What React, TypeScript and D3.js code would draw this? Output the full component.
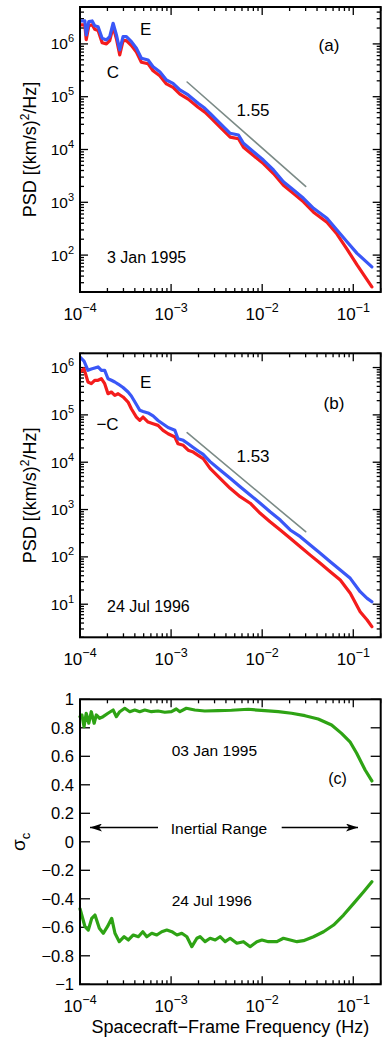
import React from 'react';
import * as d3 from 'd3';

// spectra: frequency (Hz), PSD ((km/s)^2/Hz)
const freqA = [1.0e-4, 1.13e-4, 1.17e-4, 1.25e-4, 1.36e-4, 1.45e-4, 1.58e-4, 1.75e-4, 1.95e-4, 2.12e-4,
  2.31e-4, 2.51e-4, 2.73e-4, 2.97e-4, 3.23e-4, 3.67e-4, 4.16e-4, 4.72e-4, 5.59e-4, 6.34e-4,
  7.51e-4, 8.88e-4, 1.05e-3, 1.25e-3, 1.54e-3, 1.98e-3, 2.35e-3, 2.68e-3, 3.45e-3, 4.45e-3,
  5.49e-3, 6.23e-3, 8.02e-3, 1.03e-2, 1.33e-2, 1.71e-2, 2.21e-2, 2.84e-2, 3.66e-2, 5.14e-2,
  6.62e-2, 8.53e-2, 0.110, 0.160];
const psdEA = [2.72e6, 2.72e6, 1.48e6, 2.64e6, 2.72e6, 2.21e6, 2.12e6, 1.28e6, 1.19e6, 1.37e6,
  2.46e6, 1.48e6, 7.7e5, 1.37e6, 1.37e6, 1.10e6, 8.26e5, 5.34e5, 4.95e5, 3.70e5,
  2.98e5, 2.07e5, 1.79e5, 1.34e5, 1.08e5, 7.5e4, 6.03e4, 4.85e4, 3.13e4, 2.03e4,
  1.88e4, 1.31e4, 9.08e3, 6.32e3, 4.09e3, 2.45e3, 1.71e3, 1.19e3, 769, 498,
  299, 179, 108, 60];
const psdCA = [2.3e6, 2.3e6, 1.2e6, 2.2e6, 2.3e6, 1.9e6, 1.8e6, 1.05e6, 1.0e6, 1.15e6,
  2.1e6, 1.25e6, 6.2e5, 1.15e6, 1.15e6, 9.3e5, 7.0e5, 4.5e5, 4.2e5, 3.1e5,
  2.5e5, 1.75e5, 1.5e5, 1.12e5, 9.0e4, 6.3e4, 5.1e4, 4.1e4, 2.65e4, 1.72e4,
  1.6e4, 1.1e4, 7.7e3, 5.4e3, 3.5e3, 2.1e3, 1.46e3, 1.02e3, 650, 420,
  250, 130, 65, 25];

const freqB = [1.0e-4, 1.107e-4, 1.224e-4, 1.331e-4, 1.451e-4, 1.578e-4, 1.715e-4, 1.867e-4, 2.03e-4, 2.21e-4,
  2.41e-4, 2.62e-4, 2.97e-4, 3.37e-4, 3.66e-4, 4.16e-4, 4.53e-4, 4.92e-4, 5.59e-4, 6.34e-4,
  7.19e-4, 8.16e-4, 9.27e-4, 1.10e-3, 1.19e-3, 1.36e-3, 1.54e-3, 1.75e-3, 1.98e-3, 2.25e-3,
  2.68e-3, 3.45e-3, 4.45e-3, 5.73e-3, 7.38e-3, 9.51e-3, 1.22e-2, 1.58e-2, 2.03e-2, 2.62e-2,
  3.37e-2, 4.34e-2, 5.59e-2, 7.20e-2, 9.27e-2, 0.119, 0.142, 0.160];
const psdEB = [1.67e6, 1.37e6, 8.75e5, 9.3e5, 9.8e5, 1.03e6, 8.75e5, 8.75e5, 5.81e5, 5.38e5,
  4.95e5, 4.49e5, 3.78e5, 3.04e5, 2.51e5, 1.66e5, 1.25e5, 1.18e5, 1.10e5, 9.5e4,
  7.6e4, 6.4e4, 5.4e4, 4.75e4, 3.14e4, 2.90e4, 2.46e4, 2.05e4, 1.73e4, 1.46e4,
  1.03e4, 6.84e3, 4.57e3, 3.04e3, 2.03e3, 1.36e3, 900, 601, 370, 267,
  178, 119, 79, 52.7, 35.2, 18.4, 13.3, 11.3];
const psdCB = [8.05e5, 9.46e5, 4.95e5, 4.56e5, 5.38e5, 5.38e5, 5.81e5, 4.56e5, 2.80e5, 3.04e5,
  2.59e5, 2.80e5, 2.39e5, 1.87e5, 1.35e5, 9.0e4, 7.67e4, 9.0e4, 7.06e4, 6.5e4,
  6.0e4, 4.72e4, 4.0e4, 3.41e4, 2.46e4, 2.28e4, 1.79e4, 1.64e4, 1.40e4, 1.19e4,
  7.43e3, 4.57e3, 2.81e3, 1.87e3, 1.36e3, 832, 553, 370, 247, 164,
  109, 73, 48.6, 32.4, 17.0, 6.93, 4.63, 3.35];

// cross helicity sigma_c
const freqJan = [1.0e-4, 1.05e-4, 1.107e-4, 1.17e-4, 1.25e-4, 1.33e-4, 1.43e-4, 1.51e-4, 1.64e-4, 1.79e-4,
  2.03e-4, 2.31e-4, 2.51e-4, 2.73e-4, 3.10e-4, 3.52e-4, 3.99e-4, 4.53e-4, 5.14e-4, 6.08e-4,
  7.19e-4, 8.53e-4, 1.01e-3, 1.14e-3, 1.25e-3, 1.47e-3, 1.82e-3, 2.34e-3, 3.28e-3, 4.60e-3,
  7.02e-3, 1.07e-2, 1.50e-2, 2.10e-2, 2.95e-2, 4.12e-2, 5.78e-2, 7.43e-2, 9.20e-2, 0.109,
  0.135, 0.160];
const sigmaJan = [0.878, 0.890, 0.808, 0.902, 0.832, 0.913, 0.832, 0.890, 0.867, 0.878,
  0.902, 0.925, 0.878, 0.913, 0.937, 0.913, 0.925, 0.913, 0.925, 0.913,
  0.918, 0.909, 0.913, 0.932, 0.913, 0.937, 0.925, 0.918, 0.920, 0.923,
  0.930, 0.920, 0.913, 0.902, 0.885, 0.862, 0.820, 0.761, 0.702, 0.621,
  0.504, 0.427];
const freqJul = [1.0e-4, 1.135e-4, 1.234e-4, 1.345e-4, 1.46e-4, 1.63e-4, 1.80e-4, 2.00e-4, 2.23e-4, 2.42e-4,
  2.70e-4, 3.05e-4, 3.40e-4, 3.85e-4, 4.37e-4, 4.89e-4, 5.41e-4, 6.14e-4, 6.96e-4, 7.90e-4,
  8.97e-4, 1.02e-3, 1.16e-3, 1.31e-3, 1.49e-3, 1.69e-3, 1.92e-3, 2.08e-3, 2.36e-3, 2.68e-3,
  3.05e-3, 3.45e-3, 3.92e-3, 4.45e-3, 5.27e-3, 6.23e-3, 7.38e-3, 8.75e-3, 9.93e-3, 1.17e-2,
  1.45e-2, 1.71e-2, 2.03e-2, 2.41e-2, 2.84e-2, 3.66e-2, 4.72e-2, 6.08e-2, 7.82e-2, 0.101,
  0.130, 0.160];
const sigmaJul = [-0.47, -0.596, -0.619, -0.537, -0.514, -0.607, -0.642, -0.596, -0.537, -0.642,
  -0.701, -0.666, -0.689, -0.654, -0.666, -0.631, -0.666, -0.642, -0.654, -0.631,
  -0.619, -0.631, -0.654, -0.642, -0.666, -0.736, -0.677, -0.666, -0.701, -0.677,
  -0.689, -0.666, -0.701, -0.677, -0.712, -0.701, -0.736, -0.701, -0.689, -0.701,
  -0.701, -0.677, -0.689, -0.701, -0.694, -0.666, -0.631, -0.584, -0.514, -0.432,
  -0.350, -0.280];

// reference power-law segments [freq, psd]
const slopeA = [[1.5e-3, 1.9e5], [3e-2, 2.0e3]];
const slopeB = [[1.5e-3, 4.2e4], [3e-2, 340]];

const sigmaTicks = [1, 0.8, 0.6, 0.4, 0.2, 0, -0.2, -0.4, -0.6, -0.8, -1];
const xDecades = [-4, -3, -2, -1];

const FONT = '"Liberation Sans", Arial, Helvetica, sans-serif';
const BLUE = '#3a57f7';
const RED = '#f41c1c';
const GREEN = '#2ea314';
const GRAY = '#7c8b87';

const L = 80, R = 380.7;
const x = d3.scaleLog().domain([1e-4, 0.2]).range([L, R]);

const minus = (s) => String(s).replace('-', '\u2212');

function logTicks(lo, hi) {
  const out = [];
  for (let k = Math.floor(Math.log10(lo)); k <= Math.ceil(Math.log10(hi)); k++) {
    for (let m = 1; m <= 9; m++) {
      const v = m * Math.pow(10, k);
      if (v >= lo * 0.999 && v <= hi * 1.001) out.push({ v, k, major: m === 1 });
    }
  }
  return out;
}

function XTicks({ top, bottom }) {
  const ticks = logTicks(1e-4, 0.2);
  return (
    <g>
      {ticks.map(t => {
        const px = x(t.v);
        const len = t.major ? 8 : 4;
        return (
          <g key={t.v} stroke="#000" strokeWidth={1.3}>
            <line x1={px} x2={px} y1={bottom} y2={bottom - len} />
            <line x1={px} x2={px} y1={top} y2={top + len} />
          </g>
        );
      })}
      {xDecades.map(k => (
        <text key={k} x={x(Math.pow(10, k))} y={bottom + 28} textAnchor="middle" fontSize={17}>
          10<tspan fontSize={12.5} dy={-8}>{minus(k)}</tspan>
        </text>
      ))}
    </g>
  );
}

function PsdPanel({ top, bottom, yDomain, freq, e, c, slope, slopeLabel, tag, date, eLabel, cLabel, cx }) {
  const y = d3.scaleLog().domain(yDomain).range([bottom, top]);
  const line = d3.line().x(d => x(d[0])).y(d => y(d[1]));
  const eData = freq.map((f, i) => [f, e[i]]);
  const cData = freq.map((f, i) => [f, c[i]]);
  const yt = logTicks(yDomain[0], yDomain[1]);
  const clipId = 'clip' + Math.round(top);
  return (
    <g>
      <defs>
        <clipPath id={clipId}><rect x={L} y={top} width={R - L} height={bottom - top} /></clipPath>
      </defs>
      <XTicks top={top} bottom={bottom} />
      {yt.map(t => {
        const py = y(t.v);
        const len = t.major ? 8 : 4;
        return (
          <g key={t.v} stroke="#000" strokeWidth={1.3}>
            <line x1={L} x2={L + len} y1={py} y2={py} />
            <line x1={R} x2={R - len} y1={py} y2={py} />
          </g>
        );
      })}
      {yt.filter(t => t.major).map(t => (
        <text key={t.k} x={74} y={y(t.v) + 5.5} textAnchor="end" fontSize={15.5}>
          10<tspan fontSize={11} dy={-7}>{minus(t.k)}</tspan>
        </text>
      ))}
      <text transform={`translate(36,${(top + bottom) / 2}) rotate(-90)`} textAnchor="middle" fontSize={18}>
        PSD [(km/s)<tspan fontSize={12} dy={-7}>2</tspan><tspan dy={7}>/Hz]</tspan>
      </text>
      <g clipPath={`url(#${clipId})`} fill="none" strokeLinejoin="round" strokeLinecap="round">
        <path d={line(slope)} stroke={GRAY} strokeWidth={1.6} />
        <path d={line(cData)} stroke={RED} strokeWidth={3.2} />
        <path d={line(eData)} stroke={BLUE} strokeWidth={3.2} />
      </g>
      <rect x={L} y={top} width={R - L} height={bottom - top} fill="none" stroke="#000" strokeWidth={2} />
      <text x={145.7} y={top + eLabel} textAnchor="middle" fontSize={17}>E</text>
      <text x={cx} y={top + cLabel[1]} textAnchor="middle" fontSize={17}>{cLabel[0]}</text>
      <text x={tag[1]} y={top + tag[2]} textAnchor="middle" fontSize={17}>{tag[0]}</text>
      <text x={253} y={top + slopeLabel[1]} textAnchor="middle" fontSize={17}>{slopeLabel[0]}</text>
      <text x={107} y={top + date[1]} fontSize={16}>{date[0]}</text>
    </g>
  );
}

function SigmaPanel({ top, bottom }) {
  const y = d3.scaleLinear().domain([-1, 1]).range([bottom, top]);
  const line = d3.line().x(d => x(d[0])).y(d => y(d[1]));
  const jan = freqJan.map((f, i) => [f, sigmaJan[i]]);
  const jul = freqJul.map((f, i) => [f, sigmaJul[i]]);
  const ay = y(0.1);
  return (
    <g>
      <defs>
        <marker id="arrowhead" viewBox="0 0 12 8" refX={12} refY={4} markerWidth={12} markerHeight={8}
          markerUnits="userSpaceOnUse" orient="auto-start-reverse">
          <path d="M0,0 L12,4 L0,8 L3,4 Z" fill="#000" />
        </marker>
      </defs>
      <XTicks top={top} bottom={bottom} />
      {sigmaTicks.map(v => (
        <g key={v}>
          <line x1={L} x2={L + 10} y1={y(v)} y2={y(v)} stroke="#000" strokeWidth={1.3} />
          <line x1={R} x2={R - 10} y1={y(v)} y2={y(v)} stroke="#000" strokeWidth={1.3} />
          <text x={74} y={y(v) + 6} textAnchor="end" fontSize={16.5}>{minus(v)}</text>
        </g>
      ))}
      <text transform={`translate(25,${y(0)}) rotate(-90)`} textAnchor="middle" fontSize={19}>
        σ<tspan fontSize={13} dy={5}>c</tspan>
      </text>
      <g fill="none" strokeLinejoin="round" strokeLinecap="round" stroke={GREEN} strokeWidth={3.2}>
        <path d={line(jan)} />
        <path d={line(jul)} />
      </g>
      <rect x={L} y={top} width={R - L} height={bottom - top} fill="none" stroke="#000" strokeWidth={2} />
      <text x={171.7} y={y(0.645) + 6} fontSize={15.5}>03 Jan 1995</text>
      <text x={337.5} y={y(0.45) + 6} textAnchor="middle" fontSize={16}>(c)</text>
      <text x={219} y={ay + 6} textAnchor="middle" fontSize={15.5}>Inertial Range</text>
      <line x1={158} x2={90} y1={ay} y2={ay} stroke="#000" strokeWidth={1.5} markerEnd="url(#arrowhead)" />
      <line x1={281.7} x2={358} y1={ay} y2={ay} stroke="#000" strokeWidth={1.5} markerEnd="url(#arrowhead)" />
      <text x={171.7} y={y(-0.41) + 6} fontSize={15.5}>24 Jul 1996</text>
      <text x={(L + R) / 2} y={1033} textAnchor="middle" fontSize={18}>Spacecraft{'\u2212'}Frame Frequency (Hz)</text>
    </g>
  );
}

export default function App() {
  return (
    <svg width={388} height={1041} viewBox="0 0 388 1041"
      style={{ position: 'absolute', left: 0, top: 0, background: '#fff' }}
      fontFamily={FONT} fill="#000">
      <PsdPanel top={7} bottom={292} yDomain={[20, 5e6]} freq={freqA} e={psdEA} c={psdCA}
        slope={slopeA} slopeLabel={['1.55', 109]} tag={['(a)', 329, 44]} date={['3 Jan 1995', 256]}
        eLabel={28} cLabel={['C', 71]} cx={113} />
      <PsdPanel top={353.3} bottom={637.3} yDomain={[2, 2e6]} freq={freqB} e={psdEB} c={psdCB}
        slope={slopeB} slopeLabel={['1.53', 109]} tag={['(b)', 334, 56]} date={['24 Jul 1996', 259]}
        eLabel={34.5} cLabel={['\u2212C', 77]} cx={107.5} />
      <SigmaPanel top={699.3} bottom={984.3} />
    </svg>
  );
}
